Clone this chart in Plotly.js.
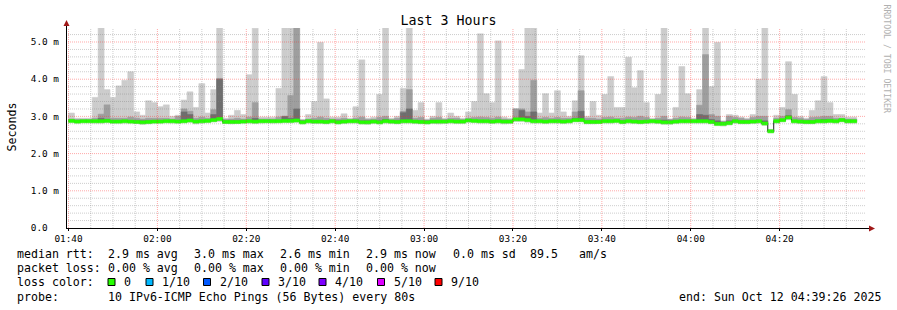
<!DOCTYPE html>
<html><head><meta charset="utf-8">
<script src="https://cdn.plot.ly/plotly-3.0.1.min.js"></script>
<style>html,body{margin:0;padding:0;background:#fff;} #chart{width:897px;height:310px;}</style>
</head><body><div id="chart"></div>
<script>
// --- data (80 s bins starting 01:40:00, Sun Oct 12 2025) ---
const binStartSec = 6000;
const stepSec = 80;
const rttMax = [
3.09,2.95,2.95,2.95,3.51,5.50,3.72,3.51,3.82,3.97,
4.20,3.12,3.03,3.42,3.37,3.26,3.31,3.00,3.03,3.44,
3.66,3.24,3.88,3.09,3.72,5.50,2.95,3.03,3.16,3.05,
4.12,5.37,2.98,2.98,2.98,3.75,5.50,5.50,5.50,2.92,
3.05,3.40,4.99,3.47,2.98,2.98,3.07,2.95,3.26,4.52,
2.95,2.98,3.59,5.50,2.95,3.00,3.75,5.50,3.16,3.37,
2.93,3.00,3.37,2.95,3.09,3.00,2.95,3.12,3.40,5.22,
3.61,3.37,5.03,2.98,2.95,3.21,4.26,5.50,5.50,3.09,
3.61,3.09,3.69,3.12,3.00,3.42,4.63,3.00,3.40,3.03,
3.59,4.07,3.24,3.24,4.59,3.77,4.23,3.37,2.95,3.59,
5.50,2.93,3.24,4.34,3.61,2.95,3.72,5.50,3.80,4.99,
2.88,3.05,3.03,2.98,2.95,3.05,4.00,5.50,2.65,3.03,
3.24,4.47,3.59,3.00,2.95,3.16,3.42,4.07,3.37,3.05,
3.05,2.98,2.98];
const rttP9 = [
2.93,2.92,2.92,2.92,2.95,3.06,3.31,2.95,2.95,2.95,
2.98,2.95,2.93,2.95,2.95,2.95,2.95,2.93,3.00,3.20,
3.14,2.95,2.98,2.95,3.18,4.02,2.92,2.93,2.95,2.93,
2.98,3.37,2.93,2.93,2.93,2.98,3.00,3.56,5.50,2.90,
2.93,2.95,2.98,2.95,2.93,2.93,2.95,2.92,2.95,2.98,
2.92,2.93,2.97,3.00,2.92,2.95,3.14,3.72,2.95,2.97,
2.90,2.95,2.97,2.92,2.95,2.95,2.92,2.95,2.97,2.98,
2.97,2.95,2.98,2.93,2.92,3.20,3.20,3.12,3.97,2.95,
2.97,2.95,2.97,2.95,2.95,3.12,3.69,2.95,2.95,2.93,
2.97,2.98,2.95,2.95,2.98,2.97,3.00,2.97,2.92,2.95,
3.00,2.92,2.95,2.98,2.97,2.92,3.30,4.66,3.05,3.00,
2.86,3.00,2.97,2.95,2.92,2.97,3.00,3.00,2.63,2.95,
3.00,3.18,2.97,2.95,2.92,2.97,2.98,3.00,3.00,2.95,
2.95,2.93,2.93];
const rttP8 = [
2.88,2.88,2.88,2.88,2.88,2.95,2.92,2.88,2.88,2.88,
2.88,2.88,2.88,2.88,2.88,2.88,2.88,2.88,2.88,3.12,
3.05,2.88,2.88,2.88,3.05,4.00,2.88,2.88,2.88,2.88,
2.88,2.95,2.88,2.88,2.88,2.88,3.00,2.95,3.20,2.88,
2.88,2.88,2.88,2.88,2.88,2.88,2.88,2.88,2.88,2.88,
2.88,2.88,2.88,2.92,2.88,2.88,3.10,3.20,2.88,2.88,
2.88,2.88,2.88,2.88,2.88,2.88,2.88,2.92,2.88,2.88,
2.88,2.88,2.90,2.88,2.88,2.95,3.16,3.00,3.12,2.88,
2.88,2.88,2.88,2.88,2.88,2.95,3.14,2.88,2.88,2.88,
2.88,2.88,2.88,2.88,2.88,2.88,2.88,2.88,2.88,2.88,
2.90,2.88,2.88,2.88,2.88,2.88,3.05,3.03,2.92,2.88,
2.84,2.88,2.88,2.88,2.88,2.88,2.88,2.88,2.62,2.88,
2.92,3.02,2.88,2.88,2.88,2.88,2.90,2.92,2.92,2.88,
2.92,2.88,2.88];
const rttMin = [
2.83,2.82,2.83,2.83,2.82,2.82,2.83,2.82,2.82,2.82,
2.82,2.81,2.79,2.80,2.82,2.82,2.83,2.82,2.82,2.83,
2.84,2.80,2.82,2.83,2.85,2.86,2.81,2.80,2.81,2.82,
2.82,2.81,2.82,2.83,2.82,2.83,2.83,2.83,2.84,2.80,
2.82,2.81,2.81,2.80,2.82,2.80,2.81,2.82,2.82,2.80,
2.79,2.81,2.80,2.82,2.81,2.80,2.82,2.82,2.81,2.80,
2.80,2.81,2.80,2.81,2.82,2.81,2.81,2.84,2.83,2.82,
2.82,2.81,2.82,2.80,2.81,2.86,2.86,2.84,2.82,2.82,
2.81,2.82,2.82,2.81,2.82,2.85,2.85,2.80,2.80,2.81,
2.82,2.82,2.83,2.80,2.82,2.81,2.80,2.81,2.82,2.81,
2.79,2.79,2.81,2.82,2.82,2.82,2.82,2.82,2.80,2.75,
2.74,2.77,2.82,2.80,2.80,2.81,2.82,2.76,2.56,2.82,
2.85,2.91,2.82,2.81,2.80,2.80,2.82,2.82,2.83,2.82,
2.85,2.82,2.82];
const rttMedian = [
2.88,2.86,2.87,2.87,2.87,2.87,2.88,2.86,2.86,2.87,
2.86,2.85,2.84,2.85,2.86,2.86,2.87,2.87,2.86,2.87,
2.89,2.86,2.87,2.88,2.90,2.93,2.85,2.85,2.85,2.86,
2.87,2.86,2.87,2.87,2.87,2.87,2.88,2.88,2.89,2.84,
2.87,2.86,2.86,2.85,2.87,2.84,2.86,2.87,2.87,2.84,
2.84,2.86,2.84,2.87,2.86,2.85,2.87,2.87,2.86,2.85,
2.84,2.86,2.86,2.86,2.87,2.86,2.86,2.89,2.88,2.87,
2.87,2.86,2.87,2.86,2.86,2.92,2.92,2.90,2.87,2.87,
2.86,2.87,2.87,2.86,2.87,2.90,2.90,2.85,2.85,2.85,
2.87,2.87,2.88,2.85,2.87,2.86,2.85,2.86,2.87,2.86,
2.84,2.84,2.86,2.87,2.87,2.87,2.87,2.87,2.85,2.80,
2.80,2.82,2.87,2.85,2.85,2.86,2.87,2.81,2.60,2.87,
2.90,2.97,2.87,2.86,2.85,2.85,2.87,2.87,2.88,2.87,
2.90,2.87,2.87];
const yTickVals = [0,1,2,3,4,5];
const yTickText = ['0.0\u00a0\u00a0','1.0 m','2.0 m','3.0 m','4.0 m','5.0 m'];
const lossLabels = ['0','1/10','2/10','3/10','4/10','5/10','9/10'];
const lossColors = ['#26ff00','#00b8ff','#0059ff','#5e00ff','#7e00ff','#dd00ff','#ff0000'];
const statsRtt = ['2.9 ms avg','3.0 ms max','2.6 ms min','2.9 ms now','0.0 ms sd','89.5','am/s'];
const statsLoss = ['0.00 % avg','0.00 % max','0.00 % min','0.00 % now'];
const probeText = '10 IPv6-ICMP Echo Pings (56 Bytes) every 80s';
const endText = 'end: Sun Oct 12 04:39:26 2025';

// --- helpers ---
const pad = n => String(n).padStart(2,'0');
const stamp = s => '2025-10-12 ' + pad(Math.floor(s/3600)) + ':' + pad(Math.floor(s%3600/60)) + ':' + pad(s%60);
const times = rttMedian.map((_, i) => stamp(binStartSec + i*stepSec + stepSec/2));
const binW = stepSec * 1000;
const PL = 66, PT = 28, PW = 800, PH = 200;
const ax = px => (px - PL) / PW;
const ay = py => (PT + PH - py) / PH;
const MONO = 'DejaVu Sans Mono, monospace';
const bandHalf = 0.04;

function barTrace(base, top, color, yaxis) {
  return {type:'bar', x:times, base:base, y:top.map((v,i)=>Math.max(0, v-base[i])),
    width:binW, marker:{color:color, line:{width:0.6, color:color}}, hoverinfo:'skip', yaxis:yaxis||'y'};
}
const traces = [
  barTrace(rttMin, rttMax, '#cccccc'),
  barTrace(rttMedian, rttP9, '#9e9e9e'),
  barTrace(rttMedian, rttP8, '#6e6e6e'),
  {type:'scatter', mode:'lines', x:times, y:rttMedian, line:{color:'#202020', width:1, shape:'hvh'}, hoverinfo:'skip'},
  {type:'bar', x:times, base:rttMedian.map(v=>v-bandHalf), y:rttMedian.map(()=>2*bandHalf), width:binW,
    marker:{color:lossColors[0], line:{width:0.6, color:lossColors[0]}}, hoverinfo:'skip', yaxis:'y2'}
];

// --- grid above traces (rrdtool style) ---
const shapes = [];
const minorCol = 'rgba(130,130,130,0.4)', majorCol = 'rgba(255,40,40,0.4)';
for (let j = 0; j <= 35; j++) {
  const t = stamp(binStartSec + j*300);
  shapes.push({type:'line', layer:'above', xref:'x', yref:'paper', x0:t, x1:t, y0:0, y1:1,
    line:{color: j%4===0 ? majorCol : minorCol, width:1, dash:'1px,1px'}});
}
for (let j = 1; j <= 26; j++) {
  const v = j*0.2;
  shapes.push({type:'line', layer:'above', xref:'paper', yref:'y', x0:0, x1:1, y0:v, y1:v,
    line:{color: j%5===0 ? majorCol : minorCol, width:1, dash:'1px,1px'}});
}
// axes with arrows
shapes.push({type:'line', layer:'above', xref:'paper', yref:'paper', x0:ax(66.5), x1:ax(66.5), y0:ay(228), y1:ay(24), line:{color:'#000', width:1}});
shapes.push({type:'line', layer:'above', xref:'paper', yref:'paper', x0:ax(66), x1:ax(870), y0:ay(228.5), y1:ay(228.5), line:{color:'#000', width:1}});
shapes.push({type:'path', layer:'above', xref:'paper', yref:'paper',
  path:`M ${ax(66.5)} ${ay(20)} L ${ax(63.5)} ${ay(26)} L ${ax(69.5)} ${ay(26)} Z`, fillcolor:'#a01818', line:{width:0}});
shapes.push({type:'path', layer:'above', xref:'paper', yref:'paper',
  path:`M ${ax(875)} ${ay(228.5)} L ${ax(869)} ${ay(225.5)} L ${ax(869)} ${ay(231.5)} Z`, fillcolor:'#a01818', line:{width:0}});

// --- legend text ---
const ann = [];
function txt(s, px, py, size, extra) {
  ann.push(Object.assign({text:s.replace(/ /g,'\u00a0'), x:ax(px-1), y:ay(py), xref:'paper', yref:'paper',
    xanchor:'left', yanchor:'middle', showarrow:false, font:{family:MONO, size:size||11.6, color:'#000'}}, extra||{}));
}
const rttX = [107,193,279,365,451.7,529.3,578.3];
txt('median rtt:', 16, 254);
statsRtt.forEach((s,i)=>txt(s, rttX[i], 254));
txt('packet loss:', 16, 268);
statsLoss.forEach((s,i)=>txt(s, rttX[i], 268));
txt('loss color:', 16, 282);
const sqX = [108,146,203.5,262,319,377.5,435];
lossLabels.forEach((s,i)=>{
  shapes.push({type:'rect', layer:'above', xref:'paper', yref:'paper', x0:ax(sqX[i]), x1:ax(sqX[i]+7), y0:ay(278.5), y1:ay(285.5),
    fillcolor:lossColors[i], line:{color:'#000', width:1}});
  txt(s, sqX[i]+15, 282);
});
txt('probe:', 16, 296.5);
txt(probeText, 107, 296.5);
txt(endText, 678.3, 296.5);
ann.push({text:'Seconds', textangle:-90, x:ax(11), y:ay(126.5), xref:'paper', yref:'paper', xanchor:'center', yanchor:'middle',
  showarrow:false, font:{family:MONO, size:11.6, color:'#000'}});
ann.push({text:'RRDTOOL / TOBI OETIKER'.replace(/ /g,'\u00a0'), textangle:90, x:ax(886), y:ay(59.5), xref:'paper', yref:'paper',
  xanchor:'center', yanchor:'middle', showarrow:false, font:{family:MONO, size:8.2, color:'#b0b0b0'}});

const yRange = [0, 5.376];
const layout = {
  width:897, height:310, margin:{l:PL, r:897-PL-PW, t:PT, b:310-PT-PH, pad:0},
  paper_bgcolor:'#fff', plot_bgcolor:'#fff', showlegend:false, barmode:'overlay',
  title:{text:'Last 3 Hours', font:{family:MONO, size:13.3, color:'#000'}, x:0.5, xref:'container', xanchor:'center',
    y:1-20/310, yref:'container', yanchor:'middle'},
  xaxis:{type:'date', range:['2025-10-12 01:39:26','2025-10-12 04:39:26'], tick0:'2025-10-12 01:40:00', dtick:1200000,
    tickformat:'%H:%M', showgrid:false, zeroline:false, showline:false, ticks:'outside', ticklen:2, tickcolor:'#000',
    tickfont:{family:MONO, size:9.4, color:'#000'}, fixedrange:true},
  yaxis:{range:yRange, tickvals:yTickVals, ticktext:yTickText, showgrid:false, zeroline:false, showline:false,
    ticks:'', tickfont:{family:MONO, size:9.4, color:'#000'}, ticklabelstandoff:6, fixedrange:true},
  yaxis2:{range:yRange, overlaying:'y', visible:false, fixedrange:true},
  shapes:shapes, annotations:ann
};
Plotly.newPlot('chart', traces, layout, {staticPlot:true, displayModeBar:false});
</script></body></html>
